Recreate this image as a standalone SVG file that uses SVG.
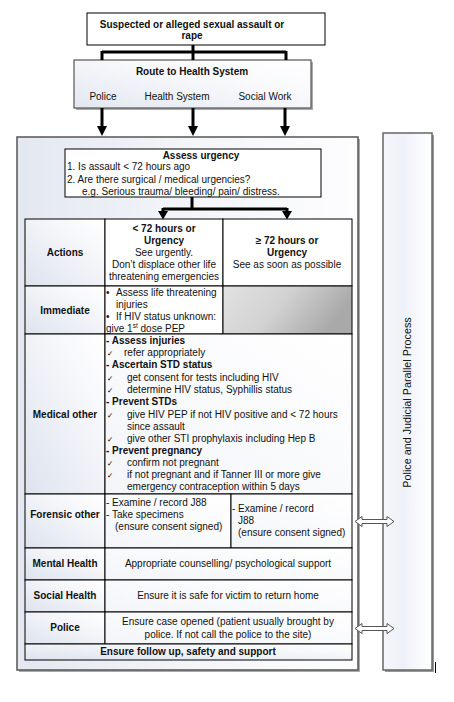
<svg xmlns="http://www.w3.org/2000/svg" width="454" height="702" viewBox="0 0 454 702">
<defs>
<linearGradient id="gOuter" x1="0" y1="0" x2="1" y2="0">
<stop offset="0" stop-color="#e3e8f1"/><stop offset="0.5" stop-color="#f3f5f9"/><stop offset="1" stop-color="#fdfdfe"/>
</linearGradient>
<linearGradient id="gSide" x1="0" y1="0" x2="1" y2="0">
<stop offset="0" stop-color="#f4f6fb"/><stop offset="0.4" stop-color="#eef1f8"/><stop offset="1" stop-color="#ffffff"/>
</linearGradient>
<linearGradient id="gRoute" x1="0" y1="1" x2="1" y2="0">
<stop offset="0" stop-color="#e2e7f0"/><stop offset="0.6" stop-color="#f8f9fc"/><stop offset="1" stop-color="#ffffff"/>
</linearGradient>
<linearGradient id="gLabel" x1="0" y1="1" x2="1" y2="0">
<stop offset="0" stop-color="#dde3ee"/><stop offset="0.7" stop-color="#f7f8fb"/><stop offset="1" stop-color="#ffffff"/>
</linearGradient>
<linearGradient id="gCell" x1="0" y1="1" x2="1" y2="0">
<stop offset="0" stop-color="#f3f5f9"/><stop offset="1" stop-color="#ffffff"/>
</linearGradient>
<linearGradient id="gGray" x1="0" y1="0" x2="1" y2="0.3">
<stop offset="0" stop-color="#e2e2e2"/><stop offset="0.5" stop-color="#d2d2d2"/><stop offset="1" stop-color="#a9a9a9"/>
</linearGradient>
</defs>
<style>
text{font-family:"Liberation Sans",Arial,sans-serif;font-size:10px;fill:#111}
.b{font-weight:bold}
.c{text-anchor:middle}
.ck{font-family:"DejaVu Sans",sans-serif;font-size:7.5px;fill:#000;font-variant-emoji:text}
.box{stroke:#000;stroke-width:1}
.cell{stroke:#000;stroke-width:1}
.conn{stroke:#000;stroke-width:3;fill:none}
.dbl{fill:#fff;stroke:#555;stroke-width:1}
</style>

<g id="side">
<rect x="385" y="135" width="49" height="537" fill="#999"/>
<rect x="383" y="133" width="49" height="537" fill="url(#gSide)" stroke="#666" stroke-width="1.5"/>
<text class="c" transform="translate(411,402.5) rotate(-90)" style="font-size:10.8px">Police and Judicial Parallel Process</text>
</g>

<g id="outer">
<rect x="19" y="139" width="341" height="533" fill="#aaa"/>
<rect x="17" y="137" width="341" height="533" fill="url(#gOuter)" stroke="#555" stroke-width="1.5"/>
</g>

<g id="top">
<rect class="box" x="87" y="13" width="238" height="32" fill="#fff"/>
<text class="b c" x="192" y="27.5">Suspected or alleged sexual assault or</text>
<text class="b c" x="192" y="38.5">rape</text>
</g>

<g id="route">
<rect x="76" y="62" width="237" height="48" fill="#aaa"/>
<rect x="74" y="60" width="237" height="48" fill="url(#gRoute)" stroke="#555" stroke-width="1.2"/>
<text class="b c" x="192" y="74.5">Route to Health System</text>
<text class="c" x="103" y="99.5">Police</text>
<text class="c" x="177" y="99.5">Health System</text>
<text class="c" x="265" y="99.5">Social Work</text>
</g>

<g id="assess">
<rect class="box" x="65" y="149" width="256" height="48" fill="#fff"/>
<text class="b c" x="201" y="158.5">Assess urgency</text>
<text x="67" y="170">1. Is assault &lt; 72 hours ago</text>
<text x="67" y="182.5">2. Are there surgical / medical urgencies?</text>
<text x="82" y="195">e.g. Serious trauma/ bleeding/ pain/ distress.</text>
</g>

<g id="table">
<rect class="cell" x="25" y="219" width="80" height="67" fill="url(#gLabel)"/>
<rect class="cell" x="105" y="219" width="118" height="67" fill="#fff"/>
<rect class="cell" x="223" y="219" width="129" height="67" fill="#fff"/>
<text class="b c" x="65" y="255.8">Actions</text>
<text class="b c" x="164" y="231.8">&lt; 72 hours or</text>
<text class="b c" x="164" y="243.5">Urgency</text>
<text class="c" x="164" y="255.8">See urgently.</text>
<text class="c" x="164" y="268.2">Don’t displace other life</text>
<text class="c" x="164" y="280.2">threatening emergencies</text>
<text class="b c" x="287" y="243.5">≥ 72 hours or</text>
<text class="b c" x="287" y="255.8">Urgency</text>
<text class="c" x="287" y="268.2">See as soon as possible</text>

<rect class="cell" x="25" y="286" width="80" height="48" fill="url(#gLabel)"/>
<rect class="cell" x="105" y="286" width="118" height="48" fill="#fff"/>
<rect class="cell" x="223" y="286" width="129" height="48" fill="url(#gGray)"/>
<text class="b c" x="65" y="313.5">Immediate</text>
<text x="106" y="296">•</text><text x="116" y="296">Assess life threatening</text>
<text x="116" y="308">injuries</text>
<text x="106" y="320">•</text><text x="116" y="320">If HIV status unknown:</text>
<text x="106" y="332">give 1<tspan style="font-size:6.5px" dy="-4">st</tspan><tspan dy="4"> dose PEP</tspan></text>

<rect class="cell" x="25" y="334" width="80" height="160" fill="url(#gLabel)"/>
<rect class="cell" x="105" y="334" width="247" height="160" fill="url(#gCell)"/>
<text class="b c" x="65" y="417.5">Medical other</text>
<text class="b" x="106" y="343.5">- Assess injuries</text>
<text class="ck" x="107" y="355.8">✓</text><text x="124" y="355.8">refer appropriately</text>
<text class="b" x="106" y="368">- Ascertain STD status</text>
<text class="ck" x="107" y="380.7">✓</text><text x="127" y="380.7">get consent for tests including HIV</text>
<text class="ck" x="107" y="392.5">✓</text><text x="127" y="392.5">determine HIV status, Syphillis status</text>
<text class="b" x="106" y="405">- Prevent STDs</text>
<text class="ck" x="107" y="417.5">✓</text><text x="127" y="417.5">give HIV PEP if not HIV positive and &lt; 72 hours</text>
<text x="127" y="429.5">since assault</text>
<text class="ck" x="107" y="441.8">✓</text><text x="127" y="441.8">give other STI prophylaxis including Hep B</text>
<text class="b" x="106" y="454">- Prevent pregnancy</text>
<text class="ck" x="107" y="466">✓</text><text x="127" y="466">confirm not pregnant</text>
<text class="ck" x="107" y="478.3">✓</text><text x="127" y="478.3">if not pregnant and if Tanner III or more give</text>
<text x="127" y="490">emergency contraception within 5 days</text>

<rect class="cell" x="25" y="494" width="80" height="54" fill="url(#gLabel)"/>
<rect class="cell" x="105" y="494" width="126" height="54" fill="url(#gCell)"/>
<rect class="cell" x="231" y="494" width="121" height="54" fill="url(#gCell)"/>
<text class="b c" x="65" y="517.8">Forensic other</text>
<text x="106" y="506">- Examine / record J88</text>
<text x="106" y="518">- Take specimens</text>
<text x="115" y="530">(ensure consent signed)</text>
<text x="232" y="511.5">- Examine / record</text>
<text x="238" y="524">J88</text>
<text x="238" y="536">(ensure consent signed)</text>

<rect class="cell" x="25" y="548" width="80" height="32" fill="url(#gLabel)"/>
<rect class="cell" x="105" y="548" width="247" height="32" fill="url(#gCell)"/>
<text class="b c" x="65" y="566.8">Mental Health</text>
<text class="c" x="228" y="566.8">Appropriate counselling/ psychological support</text>

<rect class="cell" x="25" y="580" width="80" height="32" fill="url(#gLabel)"/>
<rect class="cell" x="105" y="580" width="247" height="32" fill="url(#gCell)"/>
<text class="b c" x="65" y="599.2">Social Health</text>
<text class="c" x="228" y="599.2">Ensure it is safe for victim to return home</text>

<rect class="cell" x="25" y="612" width="80" height="32" fill="url(#gLabel)"/>
<rect class="cell" x="105" y="612" width="247" height="32" fill="url(#gCell)"/>
<text class="b c" x="65" y="630.8">Police</text>
<text class="c" x="228" y="625.2">Ensure case opened (patient usually brought by</text>
<text class="c" x="228" y="637.5">police. If not call the police to the site)</text>

<rect class="cell" x="25" y="644" width="327" height="16" fill="url(#gLabel)"/>
<text class="b c" x="188" y="655.2">Ensure follow up, safety and support</text>
</g>

<g id="connectors">
<path class="conn" d="M193,45 V52 M102,52 H286 M102,51 V60 M193,52 V60 M286,51 V60"/>
<path class="conn" d="M102,108 V127 M193,108 V127 M285,108 V127"/>
<path d="M97,126 L107,126 L102,136 z M188,126 L198,126 L193,136 z M280,126 L290,126 L285,136 z" fill="#000"/>
<path class="conn" d="M192,197 V209 M163,209 H287 M163,208 V212 M287,208 V212"/>
<path d="M158,211 L168,211 L163,219.5 z M282,211 L292,211 L287,219.5 z" fill="#000"/>
<polygon class="dbl" points="355,521.5 362,516.5 362,519.5 387,519.5 387,516.5 394,521.5 387,526.5 387,523.5 362,523.5 362,526.5"/>
<polygon class="dbl" points="355,628.5 362,623.5 362,626.5 387,626.5 387,623.5 394,628.5 387,633.5 387,630.5 362,630.5 362,633.5"/>
</g>
<line x1="435.5" y1="662" x2="435.5" y2="673" stroke="#000" stroke-width="1"/>
</svg>
